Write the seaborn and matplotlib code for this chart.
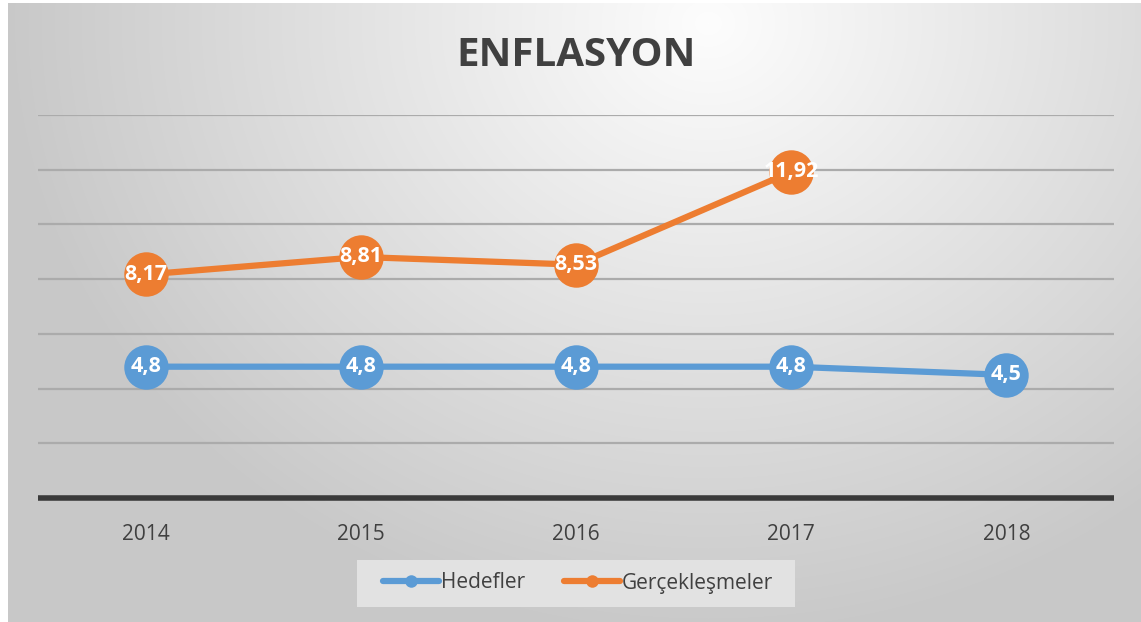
import numpy as np
import pandas as pd
import seaborn as sns
import matplotlib.pyplot as plt
from matplotlib.lines import Line2D
from matplotlib.patches import Rectangle

years = ['2014', '2015', '2016', '2017', '2018']
hedefler = [4.8, 4.8, 4.8, 4.8, 4.5]
gerceklesmeler = [8.17, 8.81, 8.53, 11.92, np.nan]
series_names = ['Hedefler', 'Gerçekleşmeler']
colors = ['#5B9BD5', '#ED7D31']

df = pd.DataFrame({
    'Yıl': years * 2,
    'Değer': hedefler + gerceklesmeler,
    'Seri': [series_names[0]] * 5 + [series_names[1]] * 5,
}).dropna()

sns.set_theme(style='white')
plt.rcParams['font.family'] = ['Open Sans', 'DejaVu Sans']

W, H = 1141, 622
fig = plt.figure(figsize=(W / 100, H / 100), dpi=100)
fig.patch.set_facecolor('white')

# radial grey gradient background of the chart area
bg = fig.add_axes([8 / W, 0, 1 - 8 / W, 1 - 3 / H], zorder=-5)
yy, xx = np.mgrid[0:619, 0:1133]
d = np.sqrt(((xx - 700) / 800.0) ** 2 + ((yy - 20) / 700.0) ** 2)
g = np.clip(253 - 60 * d, 200, 253) / 255.0
bg.imshow(np.dstack([g, g, g]), aspect='auto', extent=[0, 1, 0, 1])
bg.axis('off')

ax = fig.add_axes([38 / W, 1 - 498 / H, (1114 - 38) / W, (498 - 115) / H])
ax.set_facecolor('none')

sns.lineplot(data=df, x='Yıl', y='Değer', hue='Seri', palette=colors,
             marker='o', markersize=32, linewidth=4.5, markeredgewidth=0,
             sort=False, ax=ax, legend=False, zorder=3)

for vals, col in [(hedefler, colors[0]), (gerceklesmeler, colors[1])]:
    for i, v in enumerate(vals):
        if np.isnan(v):
            continue
        ax.text(i, v, f'{v:g}'.replace('.', ','), ha='center', va='center',
                color='white', fontsize=15.5, fontweight='bold', zorder=5)

ax.set_xlim(-0.5, 4.5)
ax.set_ylim(0, 14)
ax.set_yticks(np.arange(2, 15, 2))
ax.yaxis.grid(True, color='#ababab', linewidth=1.6)
ax.set_axisbelow(True)
ax.tick_params(axis='y', left=False, labelleft=False)
ax.tick_params(axis='x', bottom=False, labelsize=15, labelcolor='#404040', pad=13)
for s in ['top', 'left', 'right']:
    ax.spines[s].set_visible(False)
ax.spines['bottom'].set_color('#3a3a3a')
ax.spines['bottom'].set_linewidth(4)
ax.spines['bottom'].set_capstyle('butt')
ax.set_xlabel('')
ax.set_ylabel('')

fig.text(0.505, 1 - 55 / H, 'ENFLASYON', ha='center', va='center',
         fontsize=29, fontweight='bold', color='#404040')

# legend box
fig.add_artist(Rectangle((357 / W, 1 - 607 / H), (795 - 357) / W, 47 / H,
                         transform=fig.transFigure, facecolor='#e2e2e2',
                         edgecolor='none', zorder=1))
handles = [Line2D([0], [0], color=c, linewidth=4.5, marker='o', markersize=9,
                  markeredgewidth=0) for c in colors]
leg = fig.legend(handles, series_names, loc='center', bbox_to_anchor=(578 / W, 1 - 583 / H),
                 ncol=2, frameon=False, fontsize=15, handlelength=2.7, handletextpad=0.05,
                 columnspacing=1.9)
leg.set_zorder(2)
for t in leg.get_texts():
    t.set_color('#404040')

fig.savefig('out.png', dpi=100)
